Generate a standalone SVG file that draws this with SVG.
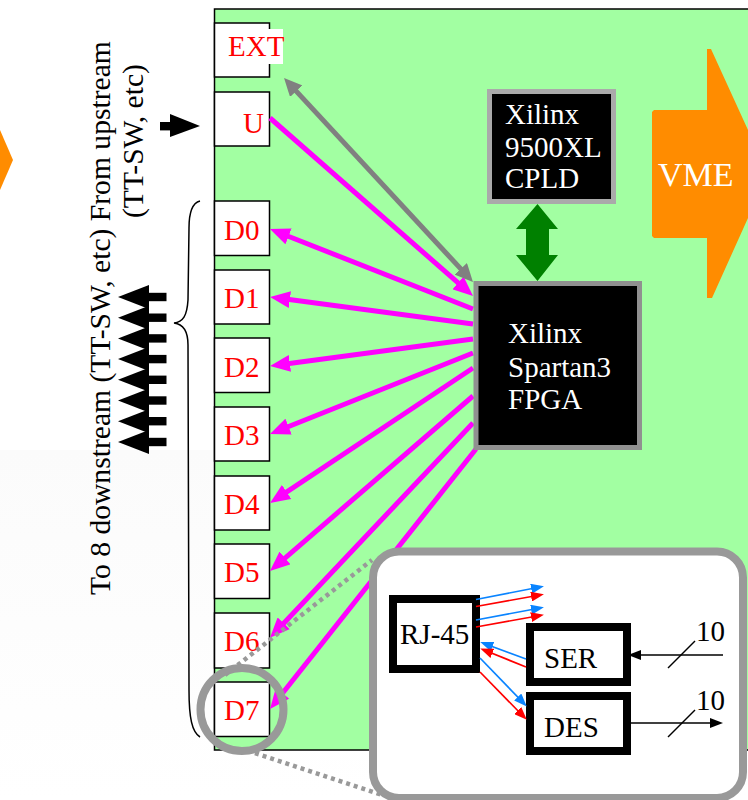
<svg xmlns="http://www.w3.org/2000/svg" width="748" height="800" viewBox="0 0 748 800">
<style>
text{font-family:"Liberation Serif","Times New Roman",serif;font-size:29px}
.port rect{fill:#fff;stroke:#000;stroke-width:1.5}
.port text{fill:#f00}
.chip rect{fill:#000;stroke-width:5}
.chip text{fill:#fff}
.inner rect{fill:#fff;stroke:#000;stroke-width:8}
.inner text,.ext text{fill:#000}
.side{font-size:29.600px}
.m{stroke:#f0f;stroke-width:5;fill:none;marker-end:url(#hm)}
.b{stroke:#0a84ff;stroke-width:1.7;marker-end:url(#hb)}
.r{stroke:#f00;stroke-width:1.7;marker-end:url(#hr)}
.k{stroke:#000;stroke-width:1.5}
.dot{stroke:#999;stroke-width:4.500;stroke-dasharray:4 4;fill:none}
</style>
<defs>
<linearGradient id="bg" x1="0" y1="0" x2="0" y2="1"><stop offset="0" stop-color="#fbfbfb"/><stop offset="1" stop-color="#fff"/></linearGradient>
<marker id="hm" markerUnits="userSpaceOnUse" markerWidth="21" markerHeight="17" refX="12" refY="8.500" orient="auto"><path d="M0 0L20 8.500L0 17z" fill="#f0f"/></marker>
<marker id="hg" markerUnits="userSpaceOnUse" markerWidth="19" markerHeight="17" refX="11" refY="8.500" orient="auto-start-reverse"><path d="M0 0L18 8.500L0 17z" fill="#808080"/></marker>
<marker id="hb" markerUnits="userSpaceOnUse" markerWidth="14" markerHeight="10" refX="9" refY="5" orient="auto"><path d="M0 0L13 5L0 10z" fill="#0a84ff"/></marker>
<marker id="hr" markerUnits="userSpaceOnUse" markerWidth="14" markerHeight="10" refX="9" refY="5" orient="auto"><path d="M0 0L13 5L0 10z" fill="#f00"/></marker>
<marker id="hk" markerUnits="userSpaceOnUse" markerWidth="14" markerHeight="10" refX="9" refY="5" orient="auto"><path d="M0 0L13 5L0 10z" fill="#000"/></marker>
<g id="down"><path d="M118 0L149 -12V12z" fill="#000"/><rect x="149" y="-4.200" width="17.500" height="8.400" fill="#000"/></g>
</defs>
<rect x="0" y="450" width="748" height="350" fill="url(#bg)"/>
<path id="upstream-vme-arrow" d="M0 130L13 160L0 190z" fill="#ff8c00"/>
<rect id="board" x="214.500" y="9" width="540" height="741" fill="#a2ffa2" stroke="#000" stroke-width="1.500"/>

<g id="vme"><path d="M654 110H707V49H711L748 130V218L712 298H707V238H654L652 236V112z" fill="#ff8c00"/><text x="658" y="186" fill="#fff" style="font-size:34px">VME</text></g>

<g id="ext" class="port"><rect x="214.500" y="23" width="55" height="54"/><rect x="228" y="29" width="55" height="35" style="stroke:none"/><text x="228" y="56">EXT</text></g>
<g id="u" class="port"><rect x="214.500" y="92" width="55" height="54"/><text x="243" y="133">U</text></g>
<g id="d0" class="port"><rect x="214.500" y="201" width="55" height="54.500"/><text x="224" y="240">D0</text></g>
<g id="d1" class="port"><rect x="214.500" y="270" width="55" height="54"/><text x="224" y="308">D1</text></g>
<g id="d2" class="port"><rect x="214.500" y="338" width="55" height="54.500"/><text x="224" y="377">D2</text></g>
<g id="d3" class="port"><rect x="214.500" y="407" width="55" height="54"/><text x="224" y="445">D3</text></g>
<g id="d4" class="port"><rect x="214.500" y="476" width="55" height="54"/><text x="224" y="514">D4</text></g>
<g id="d5" class="port"><rect x="214.500" y="544" width="55" height="54.500"/><text x="224" y="582">D5</text></g>
<g id="d6" class="port"><rect x="214.500" y="613" width="55" height="55"/><text x="224" y="651">D6</text></g>
<g id="d7" class="port"><rect x="214.500" y="682" width="55" height="54.500"/><text x="224" y="720">D7</text></g>

<g id="connectors">
<path class="m" d="M270 118L467 290.700"/>
<path class="m" d="M473 309L277.400 232"/>
<path class="m" d="M473 324L278 298"/>
<path class="m" d="M473 339L278 365"/>
<path class="m" d="M473 353L277.400 431"/>
<path class="m" d="M473 368L276.700 498.600"/>
<path class="m" d="M473 396L276 565.800"/>
<path class="m" d="M473 423L275.500 632"/>
<path class="m" d="M476 449L275 702.700"/>
<path d="M288.800 83.100L468.200 276.900" stroke="#808080" stroke-width="5" fill="none" marker-start="url(#hg)" marker-end="url(#hg)"/>
<path id="cpld-fpga" d="M537.500 204L558 229H549V255H558L537.500 281L516 255H526V229H516z" fill="#008000"/>
<path class="dot" d="M225 675L372 560"/>
<path class="dot" d="M255 753L382 795"/>
</g>

<g id="cpld" class="chip"><rect x="489.500" y="91.500" width="124" height="110" stroke="#aaa"/><text x="505" y="124">Xilinx</text><text x="505" y="157">9500XL</text><text x="505" y="188">CPLD</text></g>
<g id="fpga" class="chip"><rect x="476" y="283.500" width="163.500" height="164" stroke="#909090"/><text x="508" y="343">Xilinx</text><text x="508" y="377">Spartan3</text><text x="508" y="409">FPGA</text></g>

<g id="labels">
<text class="side" transform="translate(110 595) rotate(-90)">To 8 downstream (TT-SW, etc) From upstream</text>
<text class="side" transform="translate(143 218) rotate(-90)">(TT-SW, etc)</text>
</g>
<g id="upstream-arrow"><rect x="160" y="122" width="11" height="8.400" fill="#000"/><path d="M170 114L200 126L170 137z" fill="#000"/></g>
<g id="downstream-arrows">
<use href="#down" y="297"/><use href="#down" y="317.700"/><use href="#down" y="338.400"/><use href="#down" y="359.100"/><use href="#down" y="379.800"/><use href="#down" y="400.500"/><use href="#down" y="421.200"/><use href="#down" y="442"/>
</g>
<path id="brace" d="M200 201C192 203 189 212 189 228L188 300C187 316 183 322 174 323C183 324 188 330 188 345L189 690C189 718 192 732 200 737" fill="none" stroke="#000" stroke-width="1.500"/>

<circle id="lens" cx="242" cy="709.500" r="41.500" fill="none" stroke="#999" stroke-width="8"/>
<rect id="inset" x="373" y="551.500" width="370" height="246.500" rx="26" fill="#fff" stroke="#999" stroke-width="8"/>

<g id="rj45" class="inner"><rect x="393" y="599" width="83" height="70"/><text x="400" y="644">RJ-45</text></g>
<g id="ser" class="inner"><rect x="530" y="627" width="97" height="55"/><text x="544" y="668">SER</text></g>
<g id="des" class="inner"><rect x="530" y="696" width="97" height="55"/><text x="544" y="737">DES</text></g>
<g id="inset-connectors">
<path class="b" d="M476 599.500L540 587"/>
<path class="r" d="M476 606.500L540 595"/>
<path class="b" d="M476 620L540 608"/>
<path class="r" d="M476 627L540 615.500"/>
<path class="b" d="M526 659L484 643.500"/>
<path class="r" d="M526 667L484 650"/>
<path class="b" d="M480 658L524 703.500"/>
<path class="r" d="M480 672L524 717"/>
<path class="k" d="M723 655H632" marker-end="url(#hk)"/>
<path class="k" d="M668 668L695 641"/>
<path class="k" d="M631 723H719" marker-end="url(#hk)"/>
<path class="k" d="M668 737L695 710"/>
</g>
<g id="bus-labels" class="ext"><text x="696" y="641">10</text><text x="696" y="710">10</text></g>
</svg>
